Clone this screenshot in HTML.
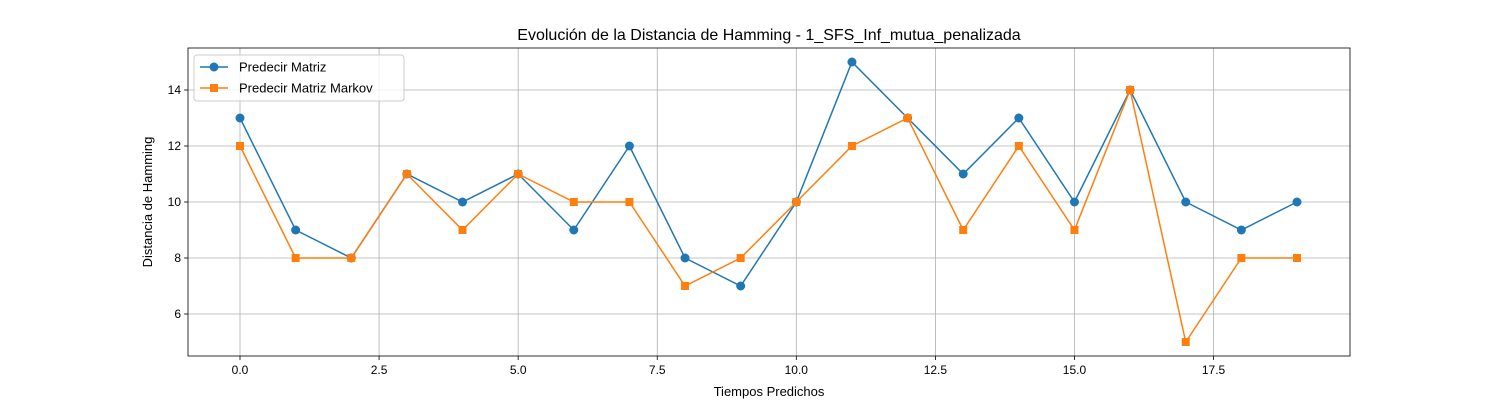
<!DOCTYPE html>
<html><head><meta charset="utf-8"><style>
body{margin:0;background:#fff;}
svg{display:block;font-family:"Liberation Sans","DejaVu Sans",sans-serif;}
</style></head><body>
<svg id="chart" width="1500" height="400"></svg>
<script>
const xs = [0,1,2,3,4,5,6,7,8,9,10,11,12,13,14,15,16,17,18,19];
const seriesMatriz = [13,9,8,11,10,11,9,12,8,7,10,15,13,11,13,10,14,10,9,10];
const seriesMarkov = [12,8,8,11,9,11,10,10,7,8,10,12,13,9,12,9,14,5,8,8];
const xTicks = [0,2.5,5,7.5,10,12.5,15,17.5];
const xTickLabels = ["0.0","2.5","5.0","7.5","10.0","12.5","15.0","17.5"];
const yTicks = [6,8,10,12,14];

const L=188,R=1350,T=48,B=356;
const X=v=>240+v*(1297-240)/19;
const Y=v=>90+(14-v)*28;
const svg=document.getElementById('chart');
const NS='http://www.w3.org/2000/svg';
function mk(tag,attrs,parent){const e=document.createElementNS(NS,tag);for(const k in attrs)e.setAttribute(k,attrs[k]);(parent||svg).appendChild(e);return e;}

const grid=mk('g',{});


xTicks.forEach((t,i)=>{
  mk('line',{x1:X(t),x2:X(t),y1:T,y2:B,stroke:'#b0b0b0','stroke-width':0.8},grid);
  mk('line',{x1:X(t),x2:X(t),y1:B,y2:B+4,stroke:'#000','stroke-width':0.8});
  const tx=mk('text',{x:X(t),y:B+18,'text-anchor':'middle','font-size':12});
  tx.textContent=xTickLabels[i];
  
  
});
yTicks.forEach(t=>{
  mk('line',{x1:L,x2:R,y1:Y(t),y2:Y(t),stroke:'#b0b0b0','stroke-width':0.8},grid);
  mk('line',{x1:L-4,x2:L,y1:Y(t),y2:Y(t),stroke:'#000','stroke-width':0.8});
  const tx=mk('text',{x:L-7,y:Y(t)+4,'text-anchor':'end','font-size':12});
  tx.textContent=String(t);
  
  
});

function series(vals,color,marker,name){
  const g=mk('g',{});
  
  
  mk('polyline',{points:vals.map((v,i)=>X(xs[i])+','+Y(v)).join(' '),fill:'none',stroke:color,'stroke-width':1.5},g);
  vals.forEach((v,i)=>{
    let m;
    if(marker==='o') m=mk('circle',{cx:X(xs[i]),cy:Y(v),r:4.5,fill:color},g);
    else m=mk('rect',{x:X(xs[i])-4,y:Y(v)-4,width:8,height:8,fill:color},g);
    
    
  });
}
series(seriesMatriz,'#1f77b4','o','series-predecir-matriz');
series(seriesMarkov,'#ff7f0e','s','series-predecir-matriz-markov');

const frame=mk('rect',{x:L,y:T,width:R-L,height:B-T,fill:'none',stroke:'#000','stroke-width':0.8});



const title=mk('text',{x:(L+R)/2,y:40,'text-anchor':'middle','font-size':16});
title.textContent='Evolución de la Distancia de Hamming - 1_SFS_Inf_mutua_penalizada';


const xl=mk('text',{x:(L+R)/2,y:396,'text-anchor':'middle','font-size':13});
xl.textContent='Tiempos Predichos';


const yl=mk('text',{x:0,y:0,'text-anchor':'middle','font-size':13,transform:'translate(152,202) rotate(-90)'});
yl.textContent='Distancia de Hamming';



const lg=mk('g',{});


mk('rect',{x:194,y:55,width:210,height:46,rx:3,fill:'#fff','fill-opacity':0.8,stroke:'#ccc'},lg);
[['Predecir Matriz','#1f77b4','o',67],['Predecir Matriz Markov','#ff7f0e','s',88]].forEach(([n,c,m,y])=>{
  const e=mk('g',{},lg);
  
  
  mk('line',{x1:200,x2:228,y1:y,y2:y,stroke:c,'stroke-width':1.5},e);
  if(m==='o')mk('circle',{cx:214,cy:y,r:4.5,fill:c},e);else mk('rect',{x:210,y:y-4,width:8,height:8,fill:c},e);
  const t=mk('text',{x:239,y:y+4.5,'font-size':13},e);t.textContent=n;
});
</script>
</body></html>
